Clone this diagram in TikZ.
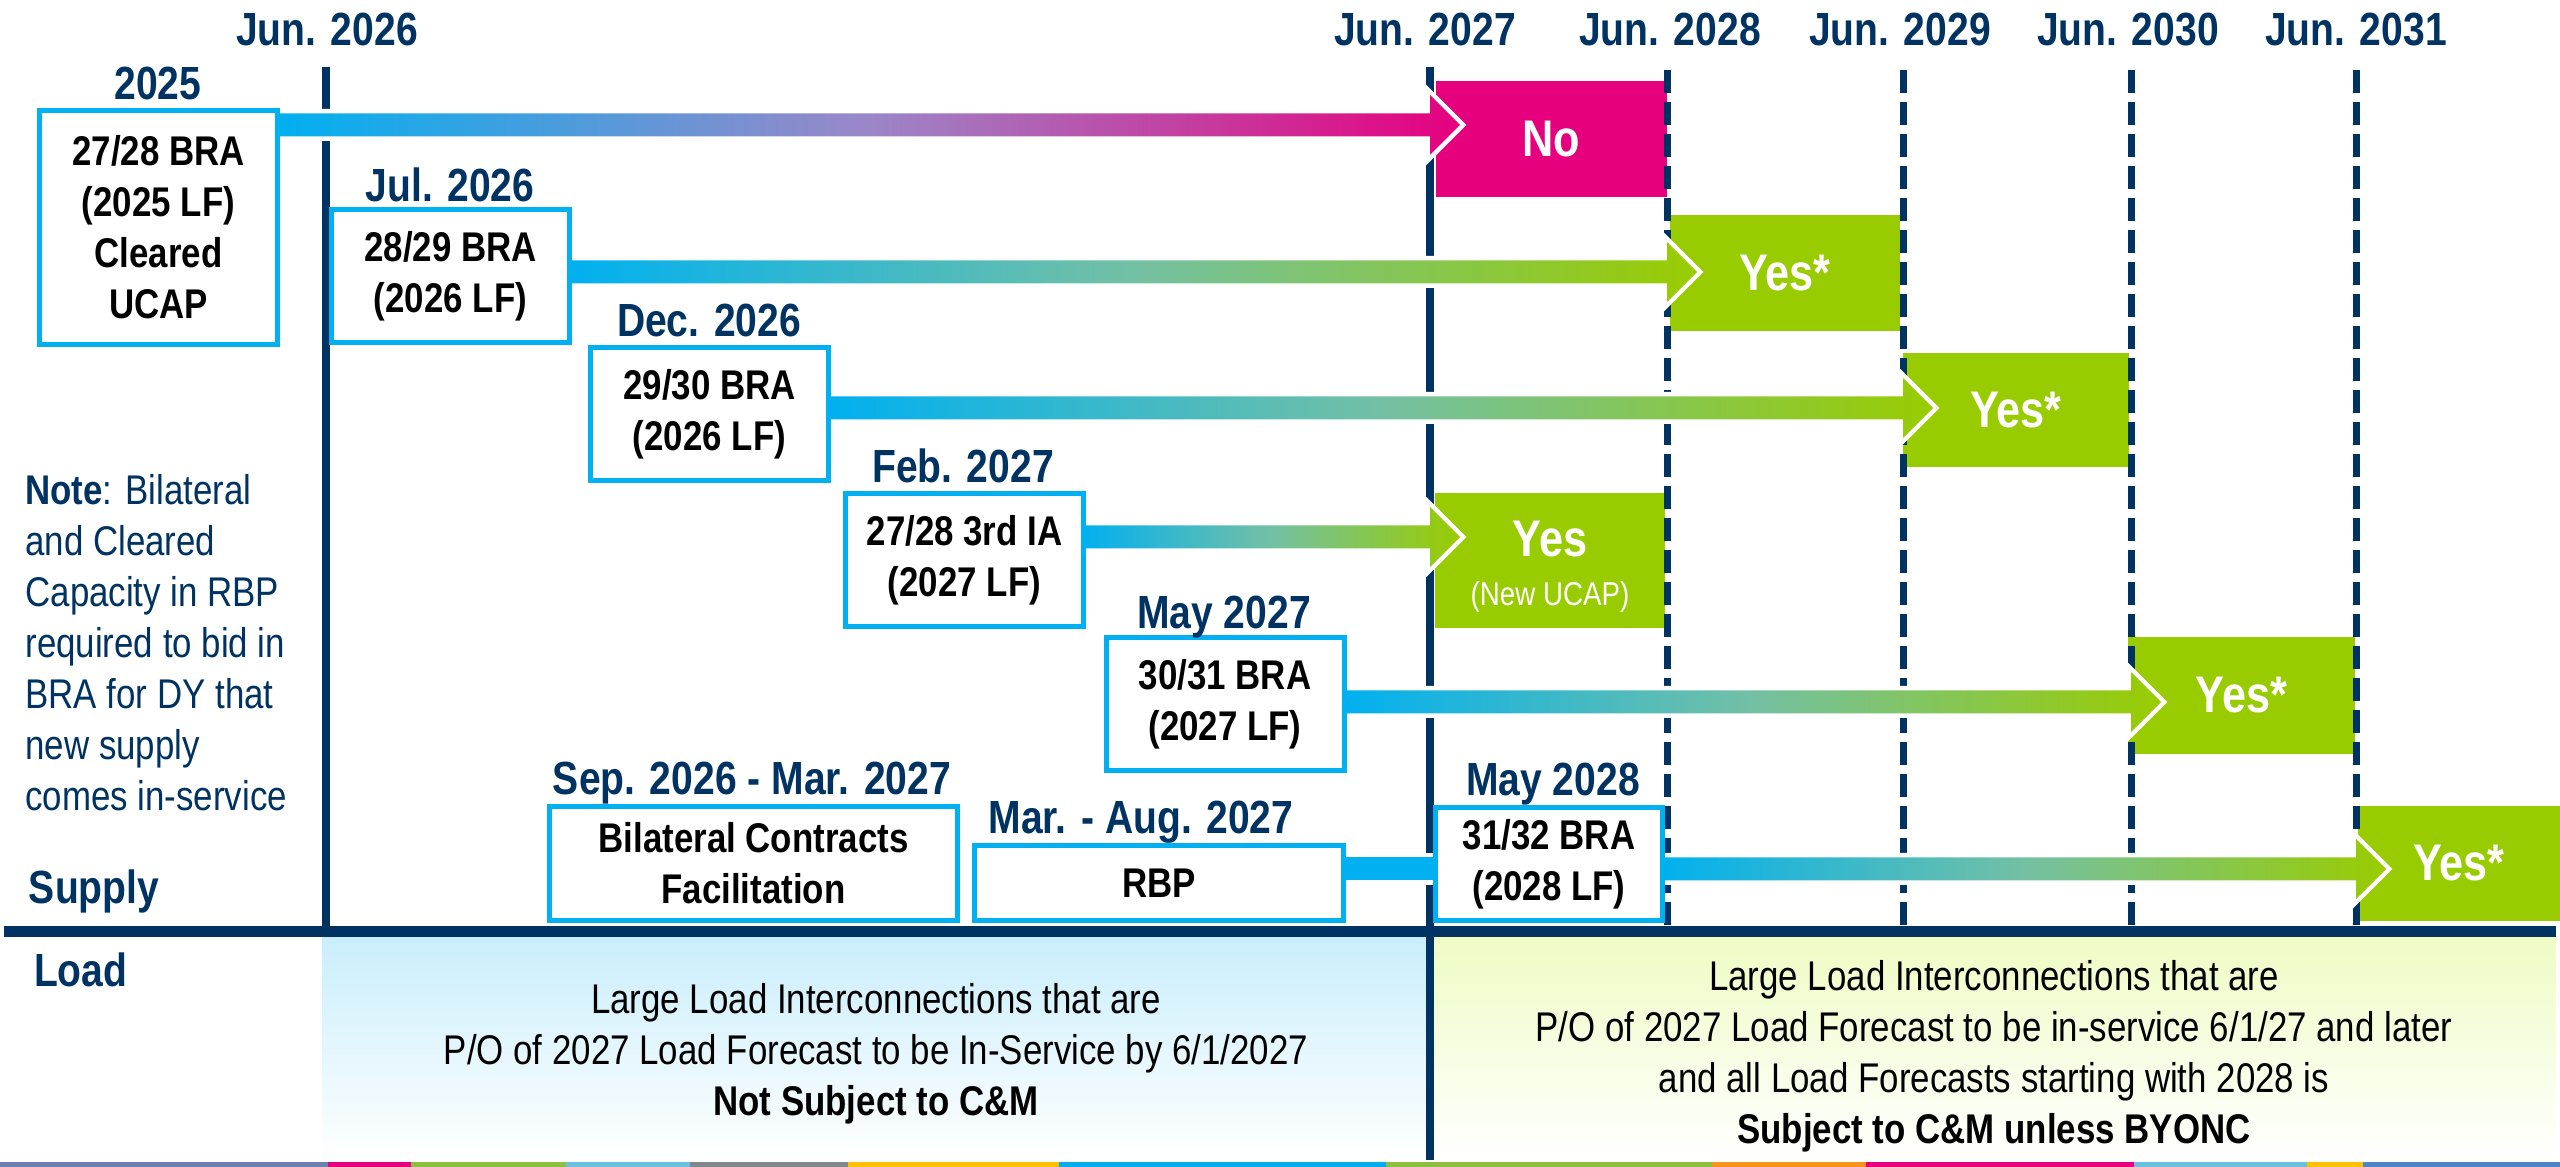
\documentclass[tikz,border=0pt]{standalone}
\usepackage{fontspec}
\setmainfont{Liberation Sans}[FakeStretch=0.84]
\usetikzlibrary{calc}
\pgfdeclarelayer{bg}
\pgfdeclarelayer{mid}
\pgfsetlayers{bg,mid,main}
\definecolor{navy}{RGB}{0,50,98}
\definecolor{cyanA}{RGB}{0,176,240}
\definecolor{grn}{RGB}{153,204,0}
\definecolor{mag}{RGB}{230,0,126}
\definecolor{midP}{RGB}{155,135,200}
\definecolor{midG}{RGB}{115,192,165}
\definecolor{lblue}{RGB}{201,238,251}
\definecolor{lgreen}{RGB}{238,252,196}
\definecolor{sBlue}{RGB}{107,127,176}
\definecolor{sGreen}{RGB}{141,190,63}
\definecolor{sLight}{RGB}{107,191,224}
\definecolor{sGray}{RGB}{127,134,140}
\definecolor{sYellow}{RGB}{255,192,0}
\definecolor{sCyan}{RGB}{0,174,239}
\definecolor{sOrange}{RGB}{247,148,29}
\definecolor{sSteel}{RGB}{74,134,197}
\newcommand\myfs[2]{\fontsize{#1}{#2}\selectfont}
\tikzset{
 srcbox/.style={draw=cyanA, line width=1pt, fill=white, align=center, inner sep=0pt, font=\bfseries\myfs{8.3pt}{10.2pt}},
 resbox/.style={fill=#1, inner sep=0pt, text=white, font=\bfseries\myfs{10.3pt}{12pt}},
 datelbl/.style={text=navy, font=\bfseries\myfs{9.3pt}{11pt}, anchor=base, inner sep=0pt},
 solidline/.style={draw=navy, line width=1.6pt},
 dashline/.style={draw=navy, line width=1.4pt, dash pattern=on 4.6pt off 1.8pt},
 arrowsty/.style={preaction={draw=white, line width=1.8pt, line join=miter}, left color=cyanA},
 loadtxt/.style={align=center, font=\myfs{8.3pt}{10.2pt}, inner sep=0pt},
}
% #1 start node, #2 line coordinate, #3 y, #4 end colour, #5 middle colour
\newcommand\bigarrow[5]{%
 \begin{pgfonlayer}{mid}
 \coordinate (y#1) at (0,#3);
 \coordinate (s#1) at (#1.east |- y#1);
 \coordinate (h#1) at (#2 |- y#1);
 \shade[arrowsty, right color=#4, middle color=#5] ($(s#1)+(-6,-11.5)$) -- ($(h#1)+(0,-11.5)$) -- ++(0,-18.5) -- ++(30,30) -- ++(-30,30) -- ++(0,-18.5) -- ($(s#1)+(-6,11.5)$) -- cycle;
 \end{pgfonlayer}}
\begin{document}
\begin{tikzpicture}[x=0.2pt,y=-0.2pt]
\useasboundingbox (0,0) rectangle (2560,1167);
\coordinate (L26) at (326,0);
\coordinate (L27) at (1430,0);
\coordinate (L28) at (1667,0);
\coordinate (L29) at (1903,0);
\coordinate (L30) at (2131,0);
\coordinate (L31) at (2356,0);

\begin{pgfonlayer}{bg}
% load regions
\shade[top color=lblue, bottom color=white] (322,937) rectangle (1427,1160);
\shade[top color=lgreen, bottom color=white] (1433,937) rectangle (2556,1160);
\fill[navy] (4,926) rectangle (2556,937);
% bottom strip
\fill[sBlue] (0,1162) rectangle (328,1167);
\fill[mag] (328,1162) rectangle (411,1167);
\fill[sGreen] (411,1162) rectangle (566,1167);
\fill[sLight] (566,1162) rectangle (690,1167);
\fill[sGray] (690,1162) rectangle (848,1167);
\fill[sYellow] (848,1162) rectangle (1059,1167);
\fill[sCyan] (1059,1162) rectangle (1386,1167);
\fill[sGreen] (1386,1162) rectangle (1712,1167);
\fill[sOrange] (1712,1162) rectangle (1866,1167);
\fill[mag] (1866,1162) rectangle (2134,1167);
\fill[sLight] (2134,1162) rectangle (2307,1167);
\fill[sYellow] (2307,1162) rectangle (2363,1167);
\fill[sSteel] (2363,1162) rectangle (2560,1167);
% result boxes
\node[resbox=mag, minimum width=46.2pt, minimum height=23.2pt] (no) at (1551.5,139) {No};
\node[resbox=grn, minimum width=46pt, minimum height=23.2pt] (y2) at (1785,273) {Yes*};
\node[resbox=grn, minimum width=45.2pt, minimum height=22.8pt] (y3) at (2016,410) {Yes*};
\node[resbox=grn, minimum width=46pt, minimum height=27pt] (yUC) at (1550,560.5) {};
\node[resbox=grn, minimum width=45.4pt, minimum height=23.4pt] (y5) at (2241.5,695.5) {Yes*};
\node[resbox=grn, minimum width=40.4pt, minimum height=23pt] (y8) at (2459,863.5) {Yes*};
% vertical lines
\draw[solidline] (326,67) -- (326,926);
\draw[solidline] (1430,67) -- (1430,1160);
\draw[dashline] (1667,70) -- (1667,926);
\draw[dashline] (1903,70) -- (1903,926);
\draw[dashline] (2131,70) -- (2131,926);
\draw[dashline] (2356,70) -- (2356,926);
\end{pgfonlayer}

% source boxes
\node[srcbox, minimum width=47.6pt, minimum height=46.8pt] (b1) at (158.5,227.5) {27/28 BRA\\(2025 LF)\\Cleared\\UCAP};
\node[srcbox, minimum width=47.6pt, minimum height=26.6pt] (b2) at (450.5,276) {28/29 BRA\\(2026 LF)};
\node[srcbox, minimum width=47.6pt, minimum height=26.6pt] (b3) at (709.5,414) {29/30 BRA\\(2026 LF)};
\node[srcbox, minimum width=47.6pt, minimum height=26.6pt] (b4) at (964.5,560.5) {27/28 3rd IA\\(2027 LF)};
\node[srcbox, minimum width=47.6pt, minimum height=26.6pt] (b5) at (1225,704.5) {30/31 BRA\\(2027 LF)};
\node[srcbox, minimum width=81.6pt, minimum height=22.8pt] (b6) at (753.5,863.5) {Bilateral Contracts\\Facilitation};
\node[srcbox, minimum width=73.8pt, minimum height=15pt] (b7) at (1159,883) {RBP};
\node[srcbox, minimum width=45.4pt, minimum height=22.6pt] (b8) at (1549,864) {31/32 BRA\\(2028 LF)};

% arrows
\bigarrow{b1}{L27}{125}{mag}{midP}
\bigarrow{b2}{L28}{272}{grn}{midG}
\bigarrow{b3}{L29}{408}{grn}{midG}
\bigarrow{b4}{L27}{537}{grn}{midG}
\bigarrow{b5}{L30}{702}{grn}{midG}
\bigarrow{b8}{L31}{869}{grn}{midG}
\begin{pgfonlayer}{mid}
\coordinate (yR) at (0,869);
\fill[cyanA, preaction={draw=white, line width=1.8pt}] ($(b7.east |- yR)+(-6,-11.5)$) rectangle ($(b8.west |- yR)+(6,11.5)$);
\end{pgfonlayer}

% text in New UCAP box
\node[anchor=base, inner sep=0pt, text=white, font=\bfseries\myfs{10.3pt}{12pt}] (yUCt) at ($(yUC.center)+(0,-3.5)$) {Yes};
\node[anchor=base, inner sep=0pt, text=white, font=\myfs{6.6pt}{8pt}] (yUCs) at ($(yUC.center)+(0,45.5)$) {(New UCAP)};

% date labels
\node[datelbl] (d26) at (327,46) {Jun. 2026};
\node[datelbl] (d27) at (1425,46) {Jun. 2027};
\node[datelbl] (d28) at (1670,46) {Jun. 2028};
\node[datelbl] (d29) at (1900,46) {Jun. 2029};
\node[datelbl] (d30) at (2128,46) {Jun. 2030};
\node[datelbl] (d31) at (2356,46) {Jun. 2031};
\node[datelbl] (d25) at (158,100) {2025};
\node[datelbl] (dJul) at (450,202) {Jul. 2026};
\node[datelbl] (dDec) at (709,337) {Dec. 2026};
\node[datelbl] (dFeb) at (963,483) {Feb. 2027};
\node[datelbl] (dMay7) at (1224,629) {May 2027};
\node[datelbl] (dSep) at (752,795) {Sep. 2026 - Mar. 2027};
\node[datelbl] (dMar) at (1141,834) {Mar. - Aug. 2027};
\node[datelbl] (dMay8) at (1553,796) {May 2028};
\node[datelbl, anchor=base west] (supply) at (28,904) {Supply};
\node[datelbl, anchor=base west] (load) at (33,987) {Load};

% note
\node[anchor=north west, inner sep=0pt, align=left, text=navy, font=\myfs{8.3pt}{10.2pt}] (note) at (24.5,473) {\textbf{Note}: Bilateral\\and Cleared\\Capacity in RBP\\required to bid in\\BRA for DY that\\new supply\\comes in-service};

% load texts
\node[loadtxt] (lt1) at (876,1053.5) {Large Load Interconnections that are\\P/O of 2027 Load Forecast to be In-Service by 6/1/2027\\\textbf{Not Subject to C\&M}};
\node[loadtxt] (lt2) at (1994,1056) {Large Load Interconnections that are\\P/O of 2027 Load Forecast to be in-service 6/1/27 and later\\and all Load Forecasts starting with 2028 is\\\textbf{Subject to C\&M unless BYONC}};
\end{tikzpicture}
\end{document}
